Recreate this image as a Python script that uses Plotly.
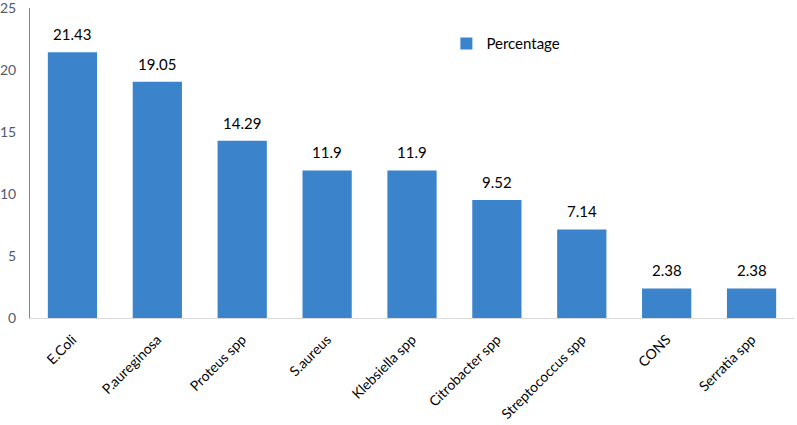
import plotly.graph_objects as go

categories = ["E.Coli", "P.aureginosa", "Proteus spp", "S.aureus", "Klebsiella spp",
              "Citrobacter spp", "Streptococcus spp", "CONS", "Serratia spp"]
percentage = [21.43, 19.05, 14.29, 11.9, 11.9, 9.52, 7.14, 2.38, 2.38]
y_ticks = [0, 5, 10, 15, 20, 25]

fig = go.Figure()
fig.add_trace(go.Bar(
    x=categories, y=percentage, name="Percentage",
    marker=dict(color="#3B84CC", line=dict(width=0)),
    cliponaxis=False,
))
for c, v in zip(categories, percentage):
    fig.add_annotation(x=c, y=v, text=str(v), showarrow=False, yanchor="bottom",
                       yshift=7, font=dict(size=15, color="#000000", family="Lato"))
fig.update_layout(
    width=797, height=425,
    margin=dict(l=30, r=3, t=8, b=107),
    plot_bgcolor="white", paper_bgcolor="white",
    bargap=0.42,
    font=dict(family="Lato", size=14, color="#000000"),
    showlegend=True,
    legend=dict(x=0.545, y=0.885, xanchor="left", yanchor="middle", itemwidth=30,
                font=dict(size=15, color="#000000"), bgcolor="rgba(0,0,0,0)"),
    xaxis=dict(tickangle=-45, showline=True, linecolor="#D9D9D9", linewidth=1,
               ticks="outside", ticklen=7, tickcolor="rgba(0,0,0,0)", automargin=False,
               tickfont=dict(size=14, color="#000000")),
    yaxis=dict(range=[0, 25], tickvals=y_ticks, showgrid=False, zeroline=False,
               showline=True, linecolor="#868686", linewidth=1,
               ticks="outside", ticklen=10, tickcolor="rgba(0,0,0,0)", automargin=False,
               ticklabeloverflow="allow",
               tickfont=dict(size=14, color="#4F5B6E")),
)
fig.write_html("out.html", config={"displayModeBar": False},
               post_script="document.body.style.margin='0';")
